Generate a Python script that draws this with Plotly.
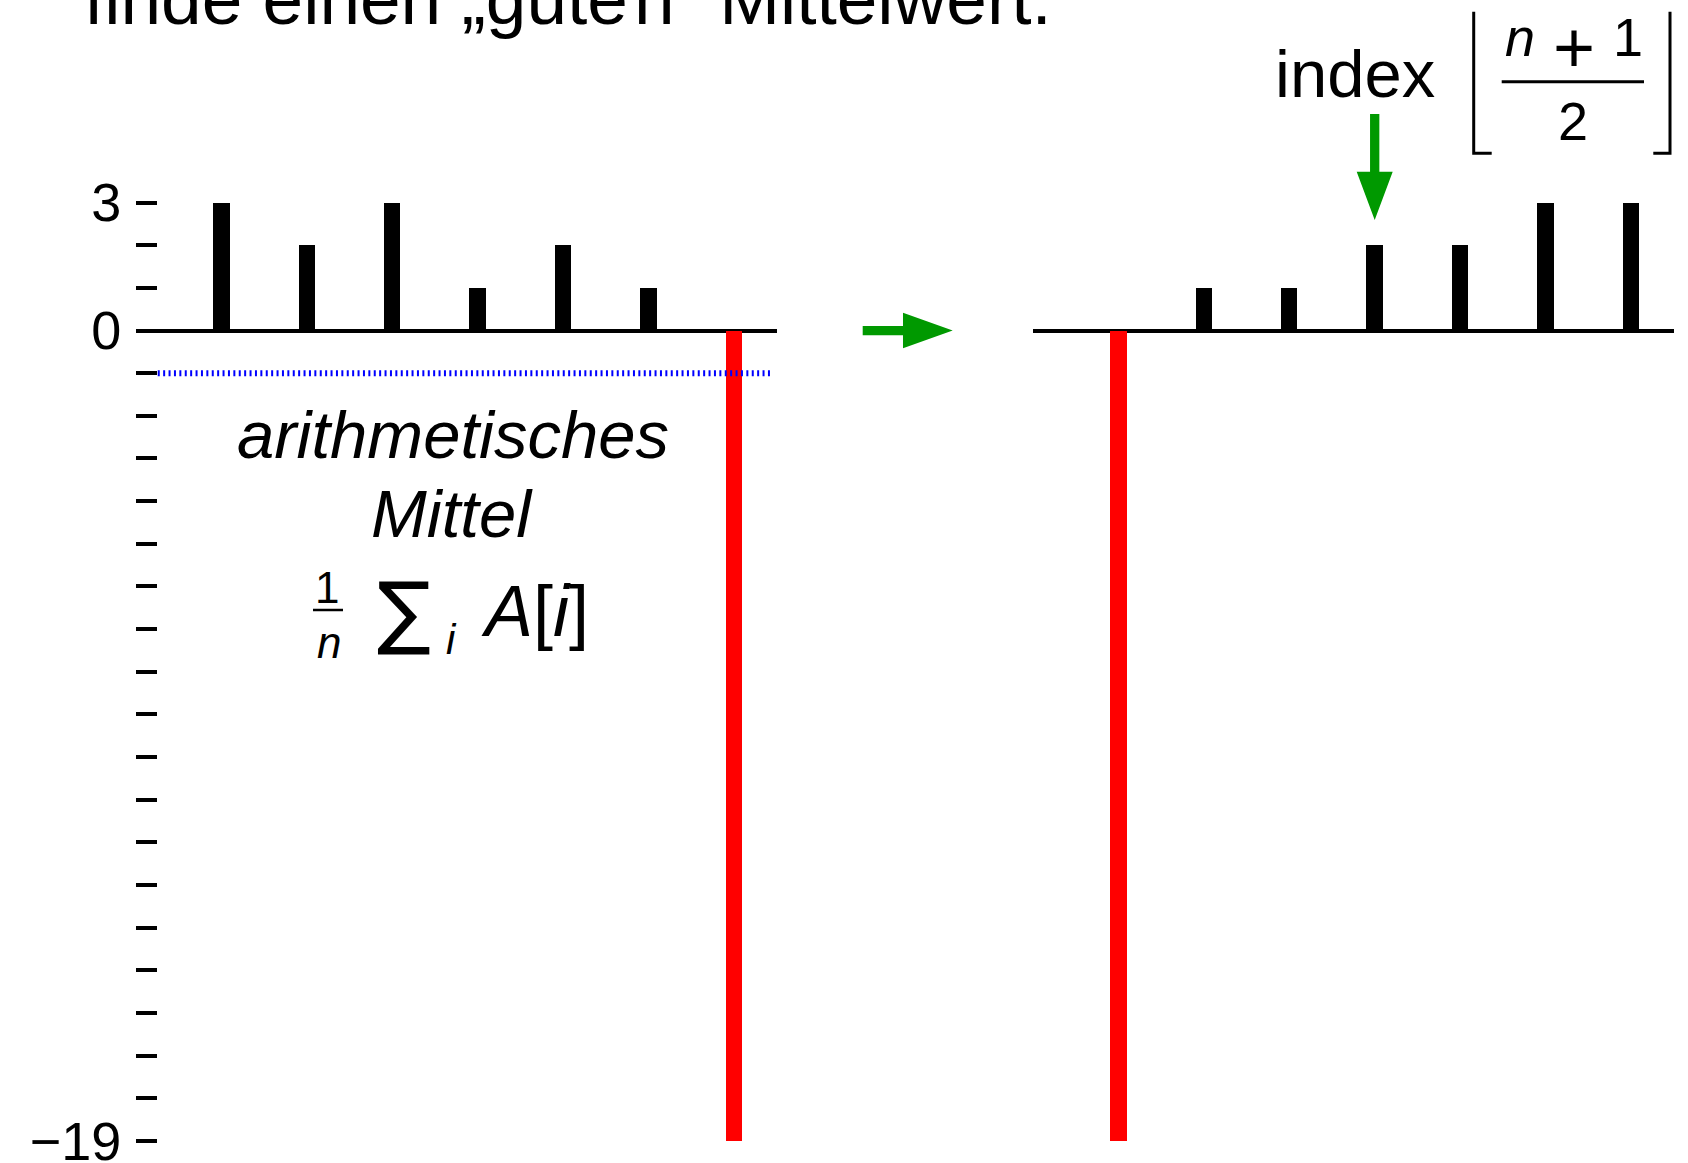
import plotly.graph_objects as go

# ---- data -------------------------------------------------------------
values = [3, 2, 3, 1, 2, 1, -19]          # array A as given
sorted_values = sorted(values)            # A after sorting
positions = list(range(1, len(values) + 1))
y_tick_values = list(range(-19, 4))
y_tick_labels = {3: "3", 0: "0", -19: "\u221219"}

mean_value = sum(values) / len(values)
median_pos = (len(values) + 1) // 2
median_value = sorted_values[median_pos - 1]

# ---- geometry helpers -------------------------------------------------
W, H = 1688, 1163
FONT = "Liberation Sans"
BLACK, RED, GREEN, BLUE = "#000000", "#ff0000", "#009900", "#0000ff"

def px(x):
    return x / W

def py(y):
    return 1 - y / H

left_dom = [136.4 / W, 776.9 / W]
right_dom = [1033.1 / W, 1673.6 / W]
x_range = [0, 7.5]
y_range = [-19.519, 7.749]
unit_x = (776.9 - 136.4) / 7.5

def bar_colors(vals):
    return [RED if v < 0 else BLACK for v in vals]

fig = go.Figure()

fig.add_trace(go.Bar(x=positions, y=values, width=0.19,
                     marker=dict(color=bar_colors(values), line=dict(width=0)),
                     xaxis="x", yaxis="y", showlegend=False))
fig.add_trace(go.Bar(x=positions, y=sorted_values, width=0.19,
                     marker=dict(color=bar_colors(sorted_values), line=dict(width=0)),
                     xaxis="x2", yaxis="y2", showlegend=False))

# arithmetic mean as a dotted line
fig.add_trace(go.Scatter(x=[0.25, 7.45], y=[mean_value, mean_value], mode="lines",
                         line=dict(color=BLUE, width=6, dash="2px,3.4px"),
                         xaxis="x", yaxis="y", showlegend=False, hoverinfo="skip"))

axis_common = dict(range=x_range, showgrid=False, zeroline=False, showline=False,
                   showticklabels=False, ticks="", fixedrange=True, automargin=False)

fig.update_layout(
    width=W, height=H,
    margin=dict(l=0, r=0, t=0, b=0, autoexpand=False),
    paper_bgcolor="white", plot_bgcolor="rgba(0,0,0,0)",
    bargap=0, showlegend=False,
    xaxis=dict(domain=left_dom, anchor="y", **axis_common),
    xaxis2=dict(domain=right_dom, anchor="y2", **axis_common),
    yaxis=dict(domain=[0, 1], anchor="x", range=y_range, showgrid=False,
               zeroline=True, zerolinecolor=BLACK, zerolinewidth=4,
               showline=False, ticks="inside", ticklen=21, tickwidth=3.5,
               tickcolor=BLACK, tickvals=y_tick_values,
               ticktext=[y_tick_labels.get(v, "") for v in y_tick_values],
               tickfont=dict(family=FONT, size=54, color=BLACK),
               ticklabelstandoff=14, ticklabeloverflow="allow", automargin=False),
    yaxis2=dict(domain=[0, 1], anchor="x2", range=y_range, showgrid=False,
                zeroline=True, zerolinecolor=BLACK, zerolinewidth=4,
                showline=False, showticklabels=False, ticks="", automargin=False),
)

# ---- text -------------------------------------------------------------
ASC_SHIFT = 0.3465  # baseline offset below the text box centre, in em

def text_at(x, baseline, txt, size, anchor="center", italic=False, family=FONT):
    fig.add_annotation(
        x=px(x), y=py(baseline - ASC_SHIFT * size), xref="paper", yref="paper",
        text=f"<i>{txt}</i>" if italic else txt, showarrow=False,
        xanchor=anchor, yanchor="middle",
        font=dict(family=family, size=size, color=BLACK))

text_at(568, 23.7, "finde einen \u201egute\u200an\u201c Mittelwert.", 73)

text_at(452.5, 458, "arithmetisches", 67, italic=True)
text_at(452, 537, "Mittel", 67, italic=True)
text_at(327, 603, "1", 44)
text_at(328.5, 658, "n", 44, italic=True)
text_at(404, 639, "\u2211", 80, family="DejaVu Sans")
text_at(451, 654, "i", 42, italic=True)
text_at(479, 636, "<i>A</i>[<i>i</i>]", 72, anchor="left")

text_at(1273, 97, "index", 67, anchor="left")
text_at(1519.7, 56, "n", 54, italic=True)
text_at(1574, 72, "+", 72)
text_at(1628.3, 56, "1", 54)
text_at(1573.3, 139.3, "2", 54)

# ---- decorations ------------------------------------------------------
def line_px(x0, y0, x1, y1, width):
    fig.add_shape(type="line", xref="paper", yref="paper",
                  x0=px(x0), y0=py(y0), x1=px(x1), y1=py(y1),
                  line=dict(color=BLACK, width=width))

def path_px(points, closed=False, fill=None, width=0, color=BLACK):
    d = "M " + " L ".join(f"{px(x):.5f},{py(y):.5f}" for x, y in points)
    if closed:
        d += " Z"
    fig.add_shape(type="path", xref="paper", yref="paper", path=d,
                  fillcolor=fill if fill else "rgba(0,0,0,0)",
                  line=dict(color=color, width=width))

# fraction bars
line_px(313, 610, 343, 610, 2.5)
line_px(1501.7, 81.7, 1644, 81.7, 3)

# floor brackets
path_px([(1491.7, 153.3), (1473.7, 153.3), (1473.7, 11.7)], width=3)
path_px([(1653.3, 153.3), (1670, 153.3), (1670, 11.7)], width=3)

# arrow from the unsorted to the sorted array
path_px([(862.7, 326), (903, 326), (903, 312.7), (952.7, 330.5),
         (903, 348.3), (903, 335.3), (862.7, 335.3)],
        closed=True, fill=GREEN, color=GREEN, width=0)

# arrow pointing at the median element
mx = right_dom[0] * W + median_pos * unit_x
path_px([(mx - 4.65, 114), (mx + 4.65, 114), (mx + 4.65, 171.7), (mx + 18, 171.7),
         (mx, 220), (mx - 18, 171.7), (mx - 4.65, 171.7)],
        closed=True, fill=GREEN, color=GREEN, width=0)

fig.write_html("out.html")
